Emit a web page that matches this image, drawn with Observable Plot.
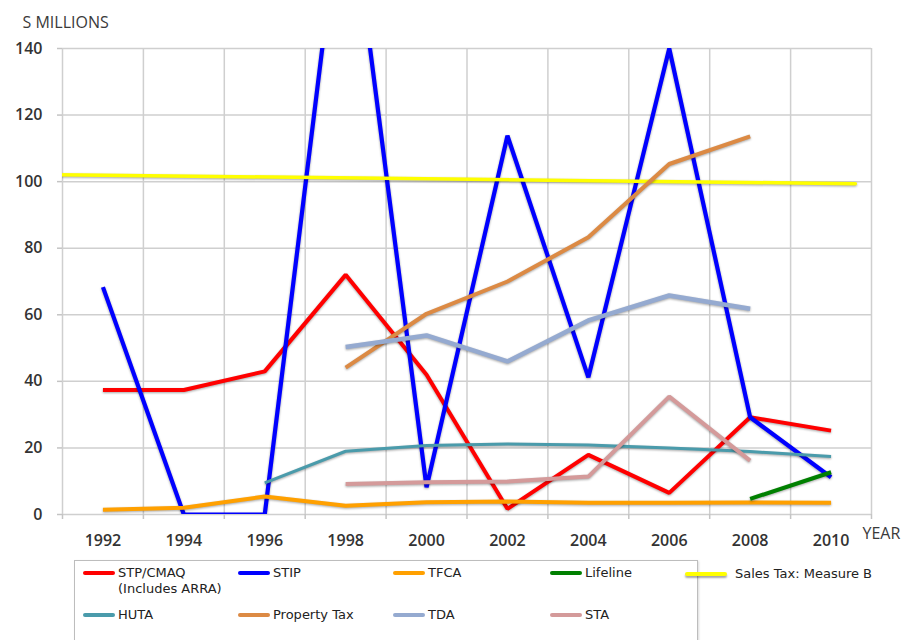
<!DOCTYPE html>
<html>
<head>
<meta charset="utf-8">
<script src="https://cdn.jsdelivr.net/npm/d3@7"></script>
<script src="https://cdn.jsdelivr.net/npm/@observablehq/plot@0.6"></script>
<style>
  html, body { margin: 0; padding: 0; background: #fff; }
  #wrap { position: relative; width: 906px; height: 640px; overflow: hidden; }
  g.sh { filter: drop-shadow(0px 1.5px 1px rgba(0,0,0,0.35)); }
  #legend { position: absolute; left: 0; top: 0; width: 906px; height: 640px; pointer-events: none;
            font-family: "DejaVu Sans", Verdana, sans-serif; font-size: 13px; color: #222; }
  #legend .box { position: absolute; left: 74px; top: 560px; width: 622px; height: 100px;
                 border: 1px solid #bdbdbd; box-shadow: 1px 1px 2px rgba(0,0,0,0.15); background: #fff; }
  #legend .item { position: absolute; display: flex; align-items: flex-start; white-space: nowrap; line-height: 16px; }
  #legend .sw { width: 32px; height: 4px; border-radius: 2px; margin-top: 6px; margin-right: 3px; flex: none; }
</style>
</head>
<body>
<div id="wrap"></div>
<script>
// Funding sources by year, $ millions
const years = [1992, 1994, 1996, 1998, 2000, 2002, 2004, 2006, 2008, 2010];
const stpCmaq     = [37.4, 37.4, 43.0, 72.0, 42.0, 1.7, 17.9, 6.5, 29.2, 25.2];
const stip        = [68.3, 0, 0, 197, 8.2, 113.8, 41.2, 140, 29.2, 11.2];
const tfca        = [1.4, 2.0, 5.4, 2.6, 3.7, 3.9, 3.5, 3.5, 3.6, 3.5];
const lifeline    = [null, null, null, null, null, null, null, null, 4.7, 12.7];
const huta        = [null, null, 9.5, 19.0, 20.7, 21.2, 20.9, 20.0, 18.9, 17.4];
const propertyTax = [null, null, null, 44.1, 60.3, 70.0, 83.3, 105.3, 113.6, null];
const tda         = [null, null, null, 50.3, 53.8, 46.0, 58.3, 65.8, 61.8, null];
const sta         = [null, null, null, 9.2, 9.7, 9.9, 11.4, 35.4, 16.2, null];
// Measure B sales tax trend line (spans the whole period)
const salesTaxYears = [1990.9, 2010.6];
const salesTax      = [102.1, 99.4];

const seriesNames  = ["STP/CMAQ\n(Includes ARRA)", "STIP", "TFCA", "Lifeline", "Sales Tax: Measure B", "HUTA", "Property Tax", "TDA", "STA"];
const seriesColors = ["#ff0000", "#0000ff", "#ffa000", "#008000", "#ffff00", "#4a9bab", "#dc8a44", "#95aad0", "#d49a9a"];

const yTicks = [0, 20, 40, 60, 80, 100, 120, 140];
const gridYears = d3.range(1991, 2012, 2);

const rows = (vals) => years.map((year, i) => ({year, value: vals[i]})).filter(d => d.value != null);

const series = [
  {vals: stpCmaq, color: seriesColors[0], w: 4},
  {vals: stip, color: seriesColors[1], w: 4.2},
  {vals: tfca, color: seriesColors[2], w: 4},
  {vals: lifeline, color: seriesColors[3], w: 4},
];
const seriesTop = [
  {vals: huta, color: seriesColors[5], w: 3},
  {vals: propertyTax, color: seriesColors[6], w: 4},
  {vals: tda, color: seriesColors[7], w: 4.5},
  {vals: sta, color: seriesColors[8], w: 4},
];
const salesRows = salesTaxYears.map((year, i) => ({year, value: salesTax[i]}));

const lineMark = (s) => Plot.line(rows(s.vals), {
  x: "year", y: "value", stroke: s.color, strokeWidth: s.w,
  strokeLinejoin: "miter", strokeLinecap: "butt", clip: true, className: "sh"
});

const tickFont = {fontSize: 16, fontWeight: 600, fill: "#333", fontFamily: "'Open Sans', sans-serif"};
const titleFont = {fontSize: 16, fill: "#3a3a3a", fontFamily: "'Open Sans', sans-serif"};

const chart = Plot.plot({
  width: 906,
  height: 640,
  marginLeft: 62,
  marginRight: 35,
  marginTop: 48,
  marginBottom: 126,
  style: {background: "#fff", overflow: "visible"},
  x: {domain: [1991, 2011]},
  y: {domain: [0, 140]},
  marks: [
    Plot.gridY(yTicks, {stroke: "#cfcfcf", strokeOpacity: 1, strokeWidth: 1.5}),
    Plot.gridX(gridYears, {stroke: "#cfcfcf", strokeOpacity: 1, strokeWidth: 1.5}),
    Plot.axisY(yTicks, {tickSize: 5, tickPadding: 15, label: null, stroke: "#c4c4c4", strokeWidth: 1.5, ...tickFont}),
    Plot.axisX(gridYears, {tickSize: 5, tickFormat: () => "", label: null, stroke: "#c4c4c4", strokeWidth: 1.5}),
    Plot.axisX(years, {tickSize: 0, tickPadding: 20, tickFormat: d => String(d), label: null, ...tickFont}),
    ...series.map(lineMark),
    Plot.line(salesRows, {x: "year", y: "value", stroke: seriesColors[4], strokeWidth: 3.5, clip: true, className: "sh"}),
    ...seriesTop.map(lineMark),
    Plot.text(["S MILLIONS"], {frameAnchor: "top-left", dx: -40, dy: -32, textAnchor: "start", ...titleFont}),
    Plot.text(["YEAR"], {frameAnchor: "bottom-right", dx: -9, dy: 24, textAnchor: "start", ...titleFont})
  ]
});

const wrap = document.getElementById("wrap");
wrap.appendChild(chart);

// Legend below the plot
const legend = document.createElement("div");
legend.id = "legend";
legend.innerHTML = '<div class="box"></div>';
const slots = [
  [83, 565], [238, 565], [393, 565], [550, 565], [685, 566],
  [83, 607], [238, 607], [393, 607], [550, 607]
];
seriesNames.forEach((name, i) => {
  const it = document.createElement("div");
  it.className = "item";
  it.style.left = slots[i][0] + "px";
  it.style.top = slots[i][1] + "px";
  const sw = document.createElement("div");
  sw.className = "sw";
  sw.style.background = seriesColors[i];
  if (i === 4) { sw.style.width = "42px"; sw.style.marginRight = "8px"; sw.style.boxShadow = "0 2px 2px rgba(0,0,0,0.35)"; }
  const label = document.createElement("div");
  label.innerHTML = name.split("\n").join("<br>");
  it.appendChild(sw);
  it.appendChild(label);
  legend.appendChild(it);
});
wrap.appendChild(legend);
</script>
</body>
</html>
